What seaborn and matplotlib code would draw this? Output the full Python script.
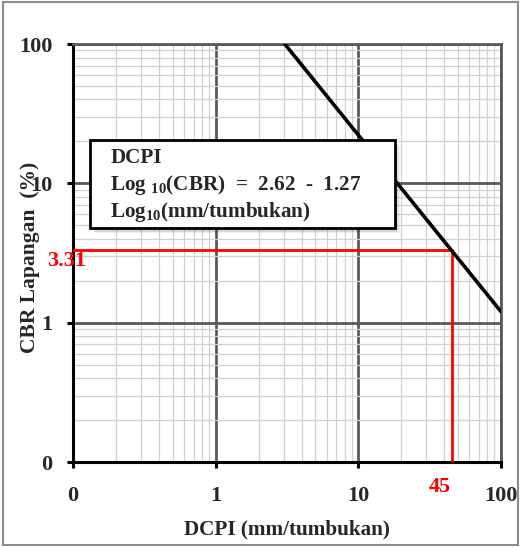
import matplotlib
matplotlib.use("Agg")
import matplotlib.pyplot as plt
import seaborn as sns
import pandas as pd
import numpy as np
from matplotlib.patches import Rectangle
from matplotlib.ticker import FixedLocator, LogLocator, NullFormatter, FixedFormatter

sns.set_theme(style="white")
plt.rcParams['font.family'] = ['Liberation Serif', 'DejaVu Serif']
plt.rcParams['font.weight'] = 'bold'
plt.rcParams['mathtext.default'] = 'regular'

# Data
line_dcpi = [3.05, 100.0]
line_cbr = [100.0, 1.2]
ref_dcpi = [0.1, 45, 45]
ref_cbr = [3.31, 3.31, 0.1]
major_ticks = [0.1, 1, 10, 100]
tick_labels = ["0", "1", "10", "100"]

fig = plt.figure(figsize=(5.21, 5.47), dpi=100)
ax = fig.add_axes([73/521, 1-462/547, 428/521, 418/547])

df_line = pd.DataFrame({"DCPI": line_dcpi, "CBR": line_cbr})
df_ref = pd.DataFrame({"DCPI": ref_dcpi, "CBR": ref_cbr})

ax.set_xscale('log')
ax.set_yscale('log')

sns.lineplot(data=df_ref, x="DCPI", y="CBR", sort=False, estimator=None,
             errorbar=None, color='#ff0000', linewidth=2.0, ax=ax, zorder=3)
sns.lineplot(data=df_line, x="DCPI", y="CBR", sort=False, estimator=None,
             errorbar=None, color='black', linewidth=2.6, ax=ax, zorder=4)

ax.set_xlim(0.1, 100)
ax.set_ylim(0.1, 100)

ax.xaxis.set_major_locator(FixedLocator(major_ticks))
ax.yaxis.set_major_locator(FixedLocator(major_ticks))
ax.xaxis.set_major_formatter(FixedFormatter(tick_labels))
ax.yaxis.set_major_formatter(FixedFormatter(tick_labels))
ax.xaxis.set_minor_locator(LogLocator(base=10, subs=np.arange(2, 10), numticks=20))
ax.yaxis.set_minor_locator(LogLocator(base=10, subs=np.arange(2, 10), numticks=20))
ax.xaxis.set_minor_formatter(NullFormatter())
ax.yaxis.set_minor_formatter(NullFormatter())

ax.grid(which='minor', color='#d0d0d0', linewidth=0.9, zorder=0)
ax.grid(which='major', color='#595959', linewidth=2.0, zorder=0.5)
ax.set_axisbelow(True)

for s in ['left', 'bottom']:
    ax.spines[s].set_color('black')
    ax.spines[s].set_linewidth(2.2)
for s in ['top', 'right']:
    ax.spines[s].set_color('#595959')
    ax.spines[s].set_linewidth(2.0)
    ax.spines[s].set_visible(True)

ax.tick_params(axis='both', which='major', direction='out', length=4,
               width=2.2, color='black', labelsize=16, bottom=True, left=True)
ax.tick_params(axis='x', which='major', pad=13)
ax.tick_params(axis='y', which='major', pad=11)
ax.tick_params(axis='both', which='minor', length=0)
for lab in ax.get_xticklabels() + ax.get_yticklabels():
    lab.set_fontweight('bold')

ax.set_xlabel("DCPI (mm/tumbukan)", fontsize=15.2, fontweight='bold')
ax.set_ylabel("CBR Lapangan  (%)", fontsize=15.5, fontweight='bold')
ax.xaxis.set_label_coords(0.5, -0.138)
ax.yaxis.set_label_coords(-0.077, 0.49)

# Annotations
ax.text(0.066, 2.75, "3.31", color='#ff0000', fontsize=16, fontweight='bold',
        ha='left', va='center', zorder=6, clip_on=False)
ax.text(37, 0.066, "45", color='#ff0000', fontsize=16, fontweight='bold',
        ha='center', va='center', clip_on=False)

# Equation box with shadow
bx0, by0, bw, bh = 0.040, 0.560, 0.712, 0.210
for off, a in [(0.004, 0.10), (0.008, 0.10), (0.012, 0.06)]:
    ax.add_patch(Rectangle((bx0 + off, by0 - off * 1.1), bw, bh, transform=ax.transAxes,
                           facecolor='#000000', alpha=a, edgecolor='none', zorder=7))
box = Rectangle((bx0, by0), bw, bh, transform=ax.transAxes,
                facecolor='white', edgecolor='black', linewidth=2.0, zorder=8)
ax.add_patch(box)
tx = 0.087
ax.text(tx, 0.727, "DCPI", transform=ax.transAxes, fontsize=15.2, fontweight='bold',
        va='center', ha='left', zorder=9)
ax.text(tx, 0.662, "Log $_{10}$(CBR)  =  2.62  -  1.27", transform=ax.transAxes,
        fontsize=15.2, fontweight='bold', va='center', ha='left', zorder=9)
ax.text(tx, 0.598, "Log$_{10}$(mm/tumbukan)", transform=ax.transAxes,
        fontsize=15.2, fontweight='bold', va='center', ha='left', zorder=9)

# Outer figure border
fig.patches.append(Rectangle((3/521, 2/547), 515/521, 543/547, transform=fig.transFigure,
                             facecolor='none', edgecolor='#8c8c8c', linewidth=1.5))

fig.savefig("out.png", dpi=100)
